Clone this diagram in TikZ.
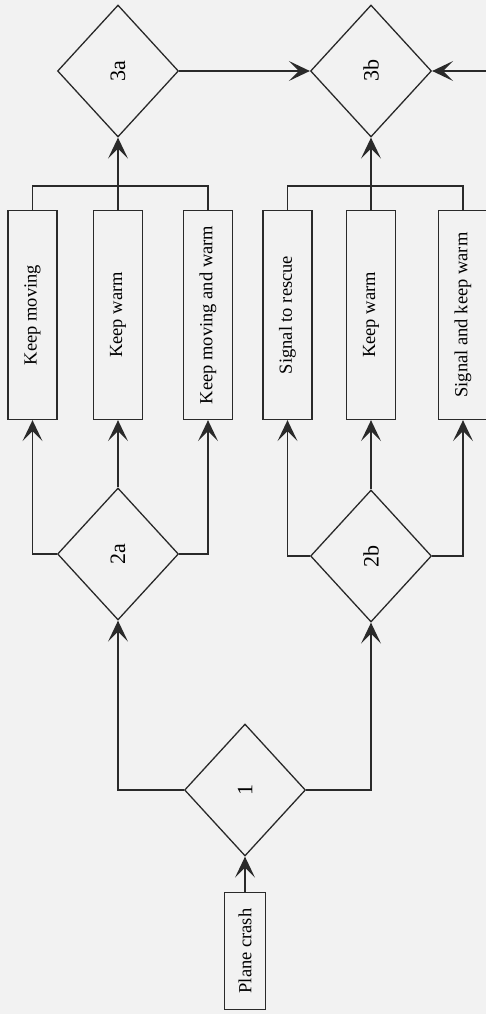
\documentclass[tikz,border=0pt]{standalone}
\usepackage{fontspec}
\setmainfont{Liberation Serif}
\usepackage{graphicx}
\usetikzlibrary{shapes.geometric, arrows.meta, positioning}

\definecolor{paper}{HTML}{F2F2F2}
\definecolor{ink}{HTML}{2A2A2A}

\begin{document}
\begin{tikzpicture}[
  x=1pt, y=-1pt,
  choice/.style={diamond, draw=ink, line width=1.3pt, minimum width=121pt, minimum height=132pt, inner sep=0pt, font=\fontsize{22}{24}\selectfont},
  action/.style={rectangle, draw=ink, line width=1.3pt, minimum width=49pt, minimum height=209pt, inner sep=0pt, font=\fontsize{18.5}{20}\selectfont},
  wire/.style={draw=ink, line width=1.3pt},
  flow/.style={wire, -{Stealth[length=21pt, width=20pt, inset=10pt]}},
]
\fill[paper] (0,0) rectangle (486,1014);
\useasboundingbox (0,0) rectangle (486,1014);

% decisions
\node[choice] (d1)  at (245,790) {\rotatebox{90}{1}};
\node[choice] (d2a) at (118,554) {\rotatebox{90}{2a}};
\node[choice] (d2b) at (371,556) {\rotatebox{90}{2b}};
\node[choice] (d3a) at (118,71)  {\rotatebox{90}{3a}};
\node[choice] (d3b) at (371,71)  {\rotatebox{90}{3b}};

% actions
\node[action, minimum width=41pt, minimum height=117pt] (crash) at (245,951) {\rotatebox{90}{Plane crash}};
\node[action] (km)  at (32.5,315) {\rotatebox{90}{Keep moving}};
\node[action] (kwa) at (118,315)  {\rotatebox{90}{Keep warm}};
\node[action] (kmw) at (208,315)  {\rotatebox{90}{Keep moving and warm}};
\node[action] (sr)  at (287.5,315) {\rotatebox{90}{Signal to rescue}};
\node[action] (kwb) at (371,315)  {\rotatebox{90}{Keep warm}};
\node[action] (skw) at (463,315)  {\rotatebox{90}{Signal and keep warm}};

\coordinate (ja) at (118,186);
\coordinate (jb) at (371,186);
\coordinate (inR) at (487,71);

% connectors
\draw[flow] (crash.north) -- (d1.south);
\draw[flow] (d1.west) -| (d2a.south);
\draw[flow] (d1.east) -| (d2b.south);

\draw[flow] (d2a.west) -| (km.south);
\draw[flow] (d2a.north) -- (kwa.south);
\draw[flow] (d2a.east) -| (kmw.south);
\draw[flow] (d2b.west) -| (sr.south);
\draw[flow] (d2b.north) -- (kwb.south);
\draw[flow] (d2b.east) -| (skw.south);

\draw[wire] (km.north) |- (ja) -| (kmw.north);
\draw[flow] (kwa.north) -- (d3a.south);
\draw[wire] (sr.north) |- (jb) -| (skw.north);
\draw[flow] (kwb.north) -- (d3b.south);

\draw[flow] (d3a.east) -- (d3b.west);
\draw[flow] (inR) -- (d3b.east);
\end{tikzpicture}
\end{document}
